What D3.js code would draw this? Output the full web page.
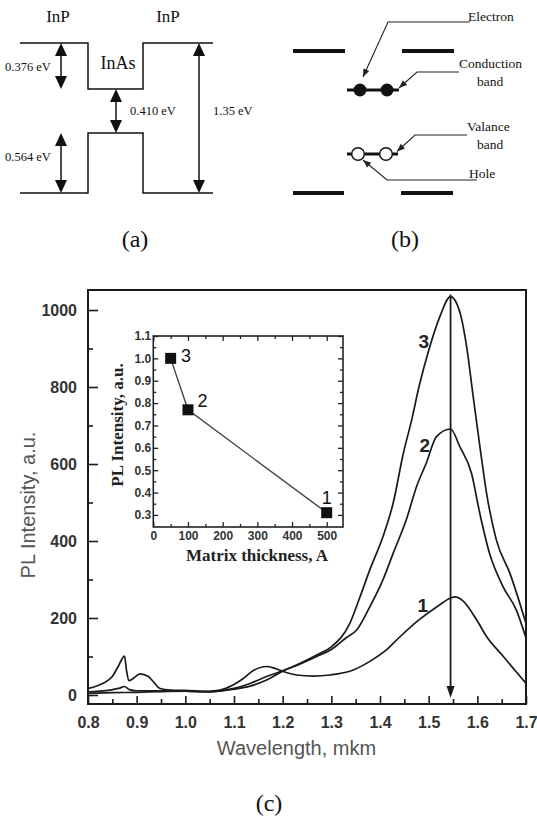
<!DOCTYPE html>
<html>
<head>
<meta charset="utf-8">
<script src="https://cdn.jsdelivr.net/npm/d3@7"></script>
<style>
  html, body { margin: 0; padding: 0; background: #fff; }
  svg { display: block; }
</style>
</head>
<body>
<svg id="fig" width="537" height="818"></svg>
<script>
// ---- PL spectra: wavelength (µm) and intensity (a.u.) for three samples ----
const wave1 = [0.800,0.850,0.900,0.950,1.000,1.030,1.071,1.098,1.119,1.139,1.167,1.184,1.201,1.229,1.263,1.297,1.345,1.380,1.413,1.440,1.480,1.520,1.545,1.555,1.570,1.600,1.620,1.650,1.700];
const pl1   = [4,6,7,9,10,9,13,26,43,63,74,69,61,52,49,52,65,88,117,150,195,232,252,255,245,192,150,105,30];

const wave2 = [0.800,0.840,0.865,0.875,0.885,0.900,0.950,1.000,1.050,1.100,1.133,1.167,1.200,1.235,1.270,1.300,1.330,1.352,1.379,1.406,1.427,1.454,1.475,1.495,1.516,1.545,1.564,1.588,1.605,1.625,1.653,1.680,1.700];
const pl2   = [8,12,18,22,14,11,11,10,8,15,23,39,62,80,100,118,148,169,229,299,368,455,541,602,671,691,645,576,472,368,281,221,148];

const wave3 = [0.800,0.815,0.830,0.850,0.862,0.875,0.879,0.884,0.893,0.907,0.924,0.934,0.948,0.970,1.000,1.050,1.100,1.133,1.167,1.200,1.235,1.270,1.300,1.338,1.359,1.379,1.406,1.427,1.448,1.465,1.480,1.500,1.523,1.545,1.564,1.578,1.591,1.605,1.619,1.639,1.667,1.700];
const pl3   = [17,22,30,48,74,101,65,37,43,55,48,35,17,13,12,9,17,30,48,63,82,104,125,186,255,325,411,498,628,714,800,895,983,1035,995,905,780,648,524,403,316,186];

// curve labels: [text, wavelength, intensity]
const curveLabels = [["3", 1.490, 919], ["2", 1.492, 649], ["1", 1.488, 234]];

// peak-position marker (wavelength, from intensity, to intensity)
const peakWave = 1.545, peakFrom = 1040, peakTo = -8;

const xTicks = [0.8,0.9,1.0,1.1,1.2,1.3,1.4,1.5,1.6,1.7];
const xMinor = [0.85,0.95,1.05,1.15,1.25,1.35,1.45,1.55,1.65];
const yTicks = [0,200,400,600,800,1000];
const yMinor = [100,300,500,700,900];

// ---- inset: PL intensity vs matrix thickness ----
const thickness    = [50, 100, 500];
const relIntensity = [1.00, 0.77, 0.31];
const sampleLabels = [["3", 94, 1.011], ["2", 142, 0.81], ["1", 500, 0.379]];
const insetXTicks = [0,100,200,300,400,500];
const insetXMinor = [50,150,250,350,450];
const insetYTicks = [0.3,0.4,0.5,0.6,0.7,0.8,0.9,1.0,1.1];
const insetYMinor = [0.35,0.45,0.55,0.65,0.75,0.85,0.95,1.05];

const SANS = "'Liberation Sans', Arial, sans-serif";
const SERIF = "'Liberation Serif', 'Times New Roman', serif";

const svg = d3.select("#fig");

// ================= (a) band diagram InP / InAs / InP =================
const A = { x0: 20, xw1: 88, xw2: 143, x1: 213, cbOut: 43, cbIn: 89, vbIn: 133, vbOut: 193 };
const gA = svg.append("g");
const bandStroke = { stroke: "#111", "stroke-width": 1.5, fill: "none" };

function applyAttrs(sel, attrs) { Object.entries(attrs).forEach(([k, v]) => sel.attr(k, v)); return sel; }

applyAttrs(gA.append("path").attr("d", d3.line()([
  [A.x0, A.cbOut], [A.xw1, A.cbOut], [A.xw1, A.cbIn], [A.xw2, A.cbIn], [A.xw2, A.cbOut], [A.x1, A.cbOut]
])), bandStroke);
applyAttrs(gA.append("path").attr("d", d3.line()([
  [A.x0, A.vbOut], [A.xw1, A.vbOut], [A.xw1, A.vbIn], [A.xw2, A.vbIn], [A.xw2, A.vbOut], [A.x1, A.vbOut]
])), bandStroke);

function doubleArrow(g, x, y1, y2) {
  const w = 6, h = 13;
  g.append("line").attr("x1", x).attr("x2", x).attr("y1", y1 + h - 1).attr("y2", y2 - h + 1)
    .attr("stroke", "#111").attr("stroke-width", 1.5);
  g.append("path").attr("d", `M${x},${y1} L${x - w},${y1 + h} L${x + w},${y1 + h} Z`).attr("fill", "#111");
  g.append("path").attr("d", `M${x},${y2} L${x - w},${y2 - h} L${x + w},${y2 - h} Z`).attr("fill", "#111");
}
doubleArrow(gA, 61, A.cbOut, A.cbIn);
doubleArrow(gA, 116, A.cbIn, A.vbIn);
doubleArrow(gA, 61, A.vbIn, A.vbOut);
doubleArrow(gA, 199, A.cbOut, A.vbOut);

const aTexts = [
  ["InP", 58, 21.5, 17, "middle"], ["InP", 168, 21.5, 17, "middle"], ["InAs", 118, 69, 18, "middle"],
  ["0.376 eV", 5, 71, 12.5, "start"], ["0.410 eV", 130, 115, 12.5, "start"],
  ["0.564 eV", 5, 161, 12.5, "start"], ["1.35 eV", 213, 115, 12.5, "start"]
];
gA.selectAll("text.a").data(aTexts).join("text")
  .attr("x", d => d[1]).attr("y", d => d[2]).attr("font-size", d => d[3])
  .attr("text-anchor", d => d[4]).attr("font-family", SERIF).attr("fill", "#111").text(d => d[0]);

// ================= (b) quantum levels with carriers =================
const gB = svg.append("g");
const barrierBars = [[293, 345, 51], [402, 454, 51], [293, 344, 193], [401, 453, 193]];
gB.selectAll("line.bar").data(barrierBars).join("line")
  .attr("x1", d => d[0]).attr("x2", d => d[1]).attr("y1", d => d[2]).attr("y2", d => d[2])
  .attr("stroke", "#111").attr("stroke-width", 4);
const levels = [[347, 399, 90], [347, 398, 154]];
gB.selectAll("line.lvl").data(levels).join("line")
  .attr("x1", d => d[0]).attr("x2", d => d[1]).attr("y1", d => d[2]).attr("y2", d => d[2])
  .attr("stroke", "#111").attr("stroke-width", 3);
const electrons = [[360, 90], [387, 90]];
const holes = [[358, 154], [386, 154]];
gB.selectAll("circle.e").data(electrons).join("circle")
  .attr("cx", d => d[0]).attr("cy", d => d[1]).attr("r", 6.5).attr("fill", "#111");
gB.selectAll("circle.h").data(holes).join("circle")
  .attr("cx", d => d[0]).attr("cy", d => d[1]).attr("r", 6.3)
  .attr("fill", "#fff").attr("stroke", "#111").attr("stroke-width", 1.4);

const leaders = [
  [[470, 22], [388, 22], [363, 77]],
  [[459, 72], [417, 72], [399, 88]],
  [[467, 135], [415, 135], [397, 151.5]],
  [[477, 180], [387, 180], [363, 160]]
];
leaders.forEach(pts => {
  gB.append("path").attr("d", d3.line()(pts)).attr("fill", "none").attr("stroke", "#222").attr("stroke-width", 1.1);
  const [p, t] = [pts[pts.length - 2], pts[pts.length - 1]];
  const dx = t[0] - p[0], dy = t[1] - p[1], L = Math.hypot(dx, dy);
  const ux = dx / L, uy = dy / L, len = 8, half = 3.2;
  const bx = t[0] - ux * len, by = t[1] - uy * len;
  gB.append("path")
    .attr("d", `M${t[0]},${t[1]} L${bx - uy * half},${by + ux * half} L${bx + uy * half},${by - ux * half} Z`)
    .attr("fill", "#222");
});
const bTexts = [["Electron", 468, 21], ["Conduction", 459, 68], ["band", 477, 86],
                ["Valance", 467, 131], ["band", 477, 149], ["Hole", 469, 178]];
gB.selectAll("text.b").data(bTexts).join("text")
  .attr("x", d => d[1]).attr("y", d => d[2]).attr("font-size", 13.5)
  .attr("font-family", SERIF).attr("fill", "#111").text(d => d[0]);

// panel captions
const captions = [["(a)", 135, 247], ["(b)", 405, 247], ["(c)", 269, 811]];
svg.selectAll("text.cap").data(captions).join("text")
  .attr("x", d => d[1]).attr("y", d => d[2]).attr("text-anchor", "middle")
  .attr("font-size", 24).attr("font-family", SERIF).attr("fill", "#111").text(d => d[0]);

// ================= (c) PL spectra =================
const plot = { left: 88, right: 526, top: 290, bottom: 704 };
const x = d3.scaleLinear().domain([0.8, 1.7]).range([plot.left, plot.right]);
const y = d3.scaleLinear().domain([-23.4, 1052]).range([plot.bottom, plot.top]);

const gC = svg.append("g");

const series = [d3.zip(wave1, pl1), d3.zip(wave2, pl2), d3.zip(wave3, pl3)];
const line = d3.line().x(d => x(d[0])).y(d => y(d[1])).curve(d3.curveMonotoneX);
gC.selectAll("path.pl").data(series).join("path")
  .attr("d", line).attr("fill", "none").attr("stroke", "#1a1a1a")
  .attr("stroke-width", 1.7).attr("stroke-linejoin", "round");

// peak position arrow
gC.append("line").attr("x1", x(peakWave)).attr("x2", x(peakWave))
  .attr("y1", y(peakFrom)).attr("y2", y(peakTo) - 8)
  .attr("stroke", "#1a1a1a").attr("stroke-width", 1.8);
gC.append("path")
  .attr("d", `M${x(peakWave)},${y(peakTo)} L${x(peakWave) - 4},${y(peakTo) - 12} L${x(peakWave) + 4},${y(peakTo) - 12} Z`)
  .attr("fill", "#1a1a1a");

gC.selectAll("text.cl").data(curveLabels).join("text")
  .attr("x", d => x(d[1])).attr("y", d => y(d[2])).attr("dy", "0.36em")
  .attr("text-anchor", "middle").attr("font-size", 19).attr("font-weight", "bold")
  .attr("font-family", SANS).attr("fill", "#222").text(d => d[0]);

// axes (ticks point inward)
const xAxis = gC.append("g").attr("transform", `translate(0,${plot.bottom})`)
  .call(d3.axisBottom(x).tickValues(xTicks).tickFormat(d3.format(".1f")).tickSizeInner(-8).tickSizeOuter(0).tickPadding(13));
gC.append("g").attr("transform", `translate(0,${plot.bottom})`)
  .call(d3.axisBottom(x).tickValues(xMinor).tickFormat("").tickSizeInner(-5).tickSizeOuter(0));
const yAxis = gC.append("g").attr("transform", `translate(${plot.left},0)`)
  .call(d3.axisLeft(y).tickValues(yTicks).tickFormat(d3.format("d")).tickSizeInner(-10).tickSizeOuter(0).tickPadding(11));
gC.append("g").attr("transform", `translate(${plot.left},0)`)
  .call(d3.axisLeft(y).tickValues(yMinor).tickFormat("").tickSizeInner(-5).tickSizeOuter(0));
gC.selectAll(".domain").remove();
gC.selectAll(".tick line").attr("stroke", "#1a1a1a").attr("stroke-width", 1.6);
[xAxis, yAxis].forEach(a => a.selectAll("text")
  .attr("font-family", SANS).attr("font-size", 16).attr("font-weight", "bold").attr("fill", "#333"));

gC.append("rect").attr("x", plot.left).attr("y", plot.top)
  .attr("width", plot.right - plot.left).attr("height", plot.bottom - plot.top)
  .attr("fill", "none").attr("stroke", "#1a1a1a").attr("stroke-width", 2);

gC.append("text").attr("x", 296.5).attr("y", 755).attr("text-anchor", "middle")
  .attr("font-family", SANS).attr("font-size", 20).attr("fill", "#555").text("Wavelength, mkm");
gC.append("text").attr("transform", "translate(35,505) rotate(-90)").attr("text-anchor", "middle")
  .attr("font-family", SANS).attr("font-size", 20).attr("fill", "#555").text("PL Intensity, a.u.");

// ---- inset ----
const ins = { left: 153.3, right: 343, top: 336, bottom: 527 };
const xi = d3.scaleLinear().domain([0, 547]).range([ins.left, ins.right]);
const yi = d3.scaleLinear().domain([0.246, 1.1]).range([ins.bottom, ins.top]);
const gI = svg.append("g");
gI.append("rect").attr("x", ins.left).attr("y", ins.top)
  .attr("width", ins.right - ins.left).attr("height", ins.bottom - ins.top)
  .attr("fill", "#fff");

const tickStyle = g => { g.select(".domain").remove(); g.selectAll(".tick line").attr("stroke", "#222").attr("stroke-width", 1.3); };
const ib = gI.append("g").attr("transform", `translate(0,${ins.bottom})`)
  .call(d3.axisBottom(xi).tickValues(insetXTicks).tickSizeInner(-5).tickSizeOuter(0).tickPadding(4)).call(tickStyle);
gI.append("g").attr("transform", `translate(0,${ins.bottom})`)
  .call(d3.axisBottom(xi).tickValues(insetXMinor).tickFormat("").tickSizeInner(-3).tickSizeOuter(0)).call(tickStyle);
gI.append("g").attr("transform", `translate(0,${ins.top})`)
  .call(d3.axisTop(xi).tickValues(insetXTicks).tickFormat("").tickSizeInner(-5).tickSizeOuter(0)).call(tickStyle);
gI.append("g").attr("transform", `translate(0,${ins.top})`)
  .call(d3.axisTop(xi).tickValues(insetXMinor).tickFormat("").tickSizeInner(-3).tickSizeOuter(0)).call(tickStyle);
const il = gI.append("g").attr("transform", `translate(${ins.left},0)`)
  .call(d3.axisLeft(yi).tickValues(insetYTicks).tickFormat(d3.format(".1f")).tickSizeInner(-5).tickSizeOuter(0).tickPadding(2)).call(tickStyle);
gI.append("g").attr("transform", `translate(${ins.left},0)`)
  .call(d3.axisLeft(yi).tickValues(insetYMinor).tickFormat("").tickSizeInner(-3).tickSizeOuter(0)).call(tickStyle);
gI.append("g").attr("transform", `translate(${ins.right},0)`)
  .call(d3.axisRight(yi).tickValues(insetYTicks).tickFormat("").tickSizeInner(-5).tickSizeOuter(0)).call(tickStyle);
gI.append("g").attr("transform", `translate(${ins.right},0)`)
  .call(d3.axisRight(yi).tickValues(insetYMinor).tickFormat("").tickSizeInner(-3).tickSizeOuter(0)).call(tickStyle);
[ib, il].forEach(a => a.selectAll("text")
  .attr("font-family", SANS).attr("font-size", 12).attr("font-weight", "bold").attr("fill", "#333"));

gI.append("rect").attr("x", ins.left).attr("y", ins.top)
  .attr("width", ins.right - ins.left).attr("height", ins.bottom - ins.top)
  .attr("fill", "none").attr("stroke", "#222").attr("stroke-width", 1.6);

const pts = d3.zip(thickness, relIntensity);
gI.append("path").attr("d", d3.line().x(d => xi(d[0])).y(d => yi(d[1]))(pts))
  .attr("fill", "none").attr("stroke", "#444").attr("stroke-width", 1.4);
gI.selectAll("rect.pt").data(pts).join("rect")
  .attr("x", d => xi(d[0]) - 5.5).attr("y", d => yi(d[1]) - 5.5)
  .attr("width", 11).attr("height", 11).attr("fill", "#111");
gI.selectAll("text.sl").data(sampleLabels).join("text")
  .attr("x", d => xi(d[1])).attr("y", d => yi(d[2])).attr("dy", "0.36em")
  .attr("text-anchor", "middle").attr("font-size", 18)
  .attr("font-family", SANS).attr("fill", "#111").text(d => d[0]);

gI.append("text").attr("x", 257).attr("y", 561).attr("text-anchor", "middle")
  .attr("font-family", SERIF).attr("font-weight", "bold").attr("font-size", 17)
  .attr("fill", "#222").text("Matrix thickness, A");
gI.append("text").attr("transform", "translate(123,425) rotate(-90)").attr("text-anchor", "middle")
  .attr("font-family", SERIF).attr("font-weight", "bold").attr("font-size", 17)
  .attr("fill", "#222").text("PL Intensity, a.u.");
</script>
</body>
</html>
